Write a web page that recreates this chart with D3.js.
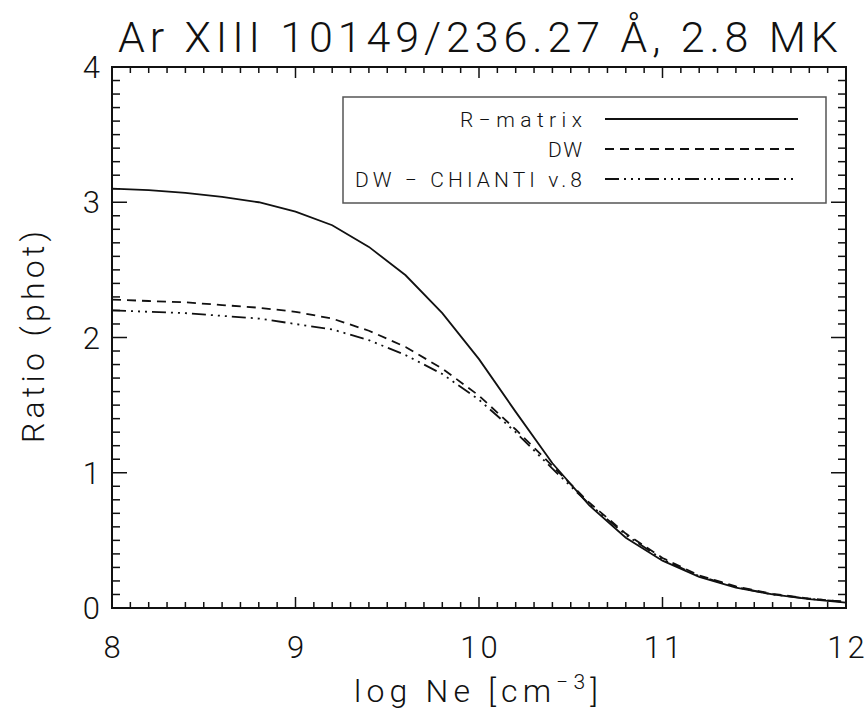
<!DOCTYPE html>
<html>
<head>
<meta charset="utf-8">
<script src="https://cdn.jsdelivr.net/npm/d3@7"></script>
<style>
  body { margin: 0; background: #fff; }
  svg text { font-family: Roboto, "Liberation Sans", sans-serif; font-weight: 300; fill: #111; }
</style>
</head>
<body>
<svg id="chart" width="865" height="719"></svg>
<script>
// log Ne grid and the three ratio curves
const logNe = [8.0, 8.2, 8.4, 8.6, 8.8, 9.0, 9.2, 9.4, 9.6, 9.8, 10.0,
               10.2, 10.4, 10.6, 10.8, 11.0, 11.2, 11.4, 11.6, 11.8, 12.0];
const rMatrix = [3.10, 3.09, 3.07, 3.04, 3.00, 2.93, 2.83, 2.67, 2.46, 2.18, 1.84,
                 1.45, 1.07, 0.76, 0.52, 0.35, 0.23, 0.15, 0.10, 0.065, 0.04];
const dw = [2.28, 2.27, 2.26, 2.24, 2.22, 2.19, 2.14, 2.05, 1.93, 1.77, 1.57,
            1.32, 1.05, 0.78, 0.55, 0.37, 0.24, 0.16, 0.105, 0.07, 0.045];
const dwChianti = [2.20, 2.19, 2.18, 2.16, 2.14, 2.10, 2.06, 1.98, 1.87, 1.73, 1.54,
                   1.30, 1.03, 0.77, 0.54, 0.36, 0.235, 0.155, 0.10, 0.068, 0.045];

const xTicks = [8, 9, 10, 11, 12];
const yTicks = [0, 1, 2, 3, 4];
const seriesNames = ['R\u2212matrix', 'DW', 'DW \u2212 CHIANTI v.8'];
const dashes = [null, '9,6', '14,5,2,5,2,5,2,5'];

const svg = d3.select('#chart');
const pLeft = 112, pRight = 846, pTop = 67, pBottom = 608;

const x = d3.scaleLinear().domain([8, 12]).range([pLeft, pRight]);
const y = d3.scaleLinear().domain([0, 4]).range([pBottom, pTop]);

// the original uses wide vector fonts, so spread letters to a given width
function spread(sel, width) {
  const node = sel.node();
  const n = node.textContent.length;
  const w = node.getComputedTextLength();
  sel.style('letter-spacing', ((width - w) / (n - 1)) + 'px');
}

// title
const title = svg.append('text')
  .attr('x', 118).attr('y', 52)
  .style('font-size', '43px')
  .text('Ar XIII 10149/236.27 \u00c5, 2.8 MK');
spread(title, 720);

// minor ticks (10 per unit) on all four sides, IDL style
const xMinor = d3.range(80, 121).map(d => d / 10);
const yMinor = d3.range(0, 41).map(d => d / 10);
const g = svg.append('g').attr('stroke', '#111').attr('stroke-width', 1.5);

const isMajor = v => Math.abs(v - Math.round(v)) < 1e-6;

g.selectAll('.xb').data(xMinor).enter().append('line')
  .attr('x1', d => x(d)).attr('x2', d => x(d))
  .attr('y1', pBottom).attr('y2', d => pBottom - (isMajor(d) ? 11 : 6));
g.selectAll('.xt').data(xMinor).enter().append('line')
  .attr('x1', d => x(d)).attr('x2', d => x(d))
  .attr('y1', pTop).attr('y2', d => pTop + (isMajor(d) ? 11 : 6));
g.selectAll('.yl').data(yMinor).enter().append('line')
  .attr('y1', d => y(d)).attr('y2', d => y(d))
  .attr('x1', pLeft).attr('x2', d => pLeft + (isMajor(d) ? 15 : 8));
g.selectAll('.yr').data(yMinor).enter().append('line')
  .attr('y1', d => y(d)).attr('y2', d => y(d))
  .attr('x1', pRight).attr('x2', d => pRight - (isMajor(d) ? 15 : 8));

// frame
svg.append('rect')
  .attr('x', pLeft).attr('y', pTop)
  .attr('width', pRight - pLeft).attr('height', pBottom - pTop)
  .attr('fill', 'none').attr('stroke', '#111').attr('stroke-width', 2);

// tick labels (gap only between digits, none trailing)
svg.selectAll('.xlab').data(xTicks).enter().append('text')
  .attr('x', d => x(d)).attr('y', 658)
  .attr('text-anchor', 'middle')
  .style('font-size', '31px')
  .each(function (d) {
    const s = String(d);
    const t = d3.select(this);
    t.append('tspan').style('letter-spacing', s.length > 1 ? '3px' : null).text(s[0]);
    if (s.length > 1) t.append('tspan').text(s.slice(1));
  });
svg.selectAll('.ylab').data(yTicks).enter().append('text')
  .attr('x', 100).attr('y', d => y(d) + 11)
  .attr('text-anchor', 'end')
  .style('font-size', '31px')
  .text(d => d);

// axis titles
const xt = svg.append('text')
  .attr('x', 354).attr('y', 702)
  .style('font-size', '32px');
xt.append('tspan').text('log Ne [cm');
xt.append('tspan').attr('dy', -13).style('font-size', '21px').text('\u22123');
xt.append('tspan').attr('dy', 13).text(']');
spread(xt, 244);

const yt = svg.append('text')
  .attr('transform', 'translate(44,' + (337 + 106) + ') rotate(-90)')
  .style('font-size', '32px')
  .text('Ratio (phot)');
spread(yt, 212);

// curves
const line = d3.line()
  .x((d, i) => x(logNe[i]))
  .y(d => y(d));

[rMatrix, dw, dwChianti].forEach((s, i) => {
  svg.append('path')
    .datum(s)
    .attr('d', line)
    .attr('fill', 'none')
    .attr('stroke', '#111')
    .attr('stroke-width', 1.8)
    .attr('stroke-dasharray', dashes[i]);
});

// legend
svg.append('rect')
  .attr('x', 343).attr('y', 97)
  .attr('width', 483).attr('height', 106)
  .attr('fill', 'none').attr('stroke', '#555').attr('stroke-width', 1.5);

const legX = [460, 548, 355];
const legW = [122, 34, 227];
seriesNames.forEach((name, i) => {
  const ly = 119 + i * 30;
  svg.append('line')
    .attr('x1', 605).attr('x2', 798)
    .attr('y1', ly).attr('y2', ly)
    .attr('stroke', '#111').attr('stroke-width', 1.8)
    .attr('stroke-dasharray', dashes[i]);
  const t = svg.append('text')
    .attr('x', legX[i]).attr('y', ly + 8)
    .style('font-size', '21px')
    .text(name);
  spread(t, legW[i]);
});
</script>
</body>
</html>
